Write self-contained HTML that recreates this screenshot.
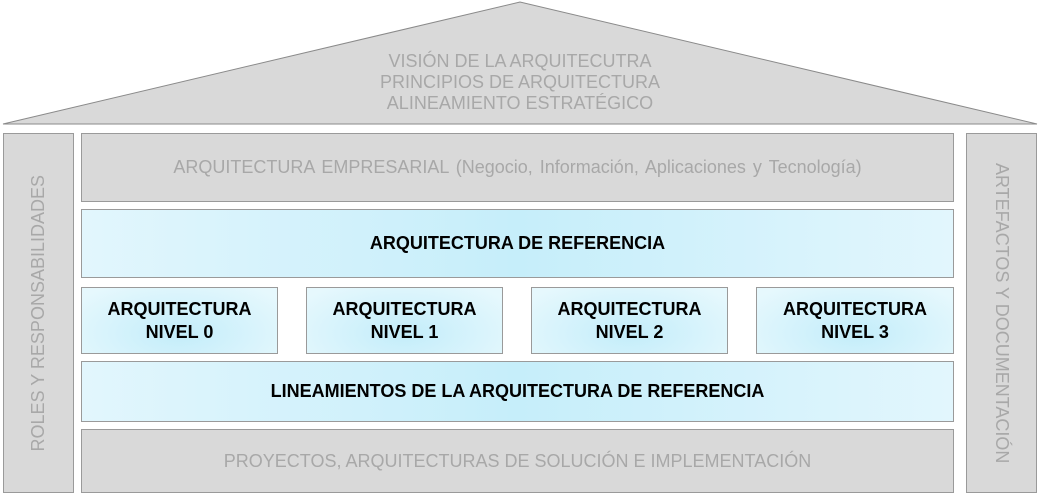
<!DOCTYPE html>
<html><head><style>
body{margin:0;width:1040px;height:490px;background:#fff;position:relative;overflow:hidden;font-family:"Liberation Sans",sans-serif}
.b{position:absolute;box-sizing:border-box;border:1px solid #9a9a9a;display:flex;align-items:center;justify-content:center;text-align:center}
.g{background:#d9d9d9;color:#a8a8a8;font-size:18px}
.c{background:linear-gradient(90deg,#e2f6fd 0%,#c6eefa 50%,#e2f6fd 100%);color:#000;font-weight:bold;font-size:18px;line-height:23px}
.s{background:radial-gradient(ellipse at 50% 70%,#c3edfa 0%,#e6f8fd 90%)}
.v{writing-mode:vertical-rl;transform:rotate(180deg)}
</style></head><body>
<svg width="1040" height="130" style="position:absolute;left:0;top:0">
<polygon points="3,124 520,2 1037,124" fill="#d9d9d9" stroke="#8a8a8a" stroke-width="1"/>
<text x="520" y="67" text-anchor="middle" font-family="Liberation Sans" font-size="18" fill="#a8a8a8">VISIÓN DE LA ARQUITECUTRA</text>
<text x="520" y="88" text-anchor="middle" font-family="Liberation Sans" font-size="18" fill="#a8a8a8">PRINCIPIOS DE ARQUITECTURA</text>
<text x="520" y="109" text-anchor="middle" font-family="Liberation Sans" font-size="18" fill="#a8a8a8">ALINEAMIENTO ESTRATÉGICO</text>
</svg>
<div class="b g" style="left:3px;top:133px;width:71px;height:360px"><span class="v">ROLES Y RESPONSABILIDADES</span></div>
<div class="b g" style="left:966px;top:133px;width:71px;height:360px"><span class="v" style="transform:none">ARTEFACTOS Y DOCUMENTACIÓN</span></div>
<div class="b g" style="left:81px;top:133px;width:873px;height:69px;word-spacing:2px">ARQUITECTURA EMPRESARIAL (Negocio, Información, Aplicaciones y Tecnología)</div>
<div class="b c" style="left:81px;top:209px;width:873px;height:69px">ARQUITECTURA DE REFERENCIA</div>
<div class="b c s" style="left:81px;top:287px;width:197px;height:67px">ARQUITECTURA<br>NIVEL 0</div>
<div class="b c s" style="left:306px;top:287px;width:197px;height:67px">ARQUITECTURA<br>NIVEL 1</div>
<div class="b c s" style="left:531px;top:287px;width:197px;height:67px">ARQUITECTURA<br>NIVEL 2</div>
<div class="b c s" style="left:756px;top:287px;width:198px;height:67px">ARQUITECTURA<br>NIVEL 3</div>
<div class="b c" style="left:81px;top:361px;width:873px;height:61px">LINEAMIENTOS DE LA ARQUITECTURA DE REFERENCIA</div>
<div class="b g" style="left:81px;top:429px;width:873px;height:64px">PROYECTOS, ARQUITECTURAS DE SOLUCIÓN E IMPLEMENTACIÓN</div>
</body></html>
